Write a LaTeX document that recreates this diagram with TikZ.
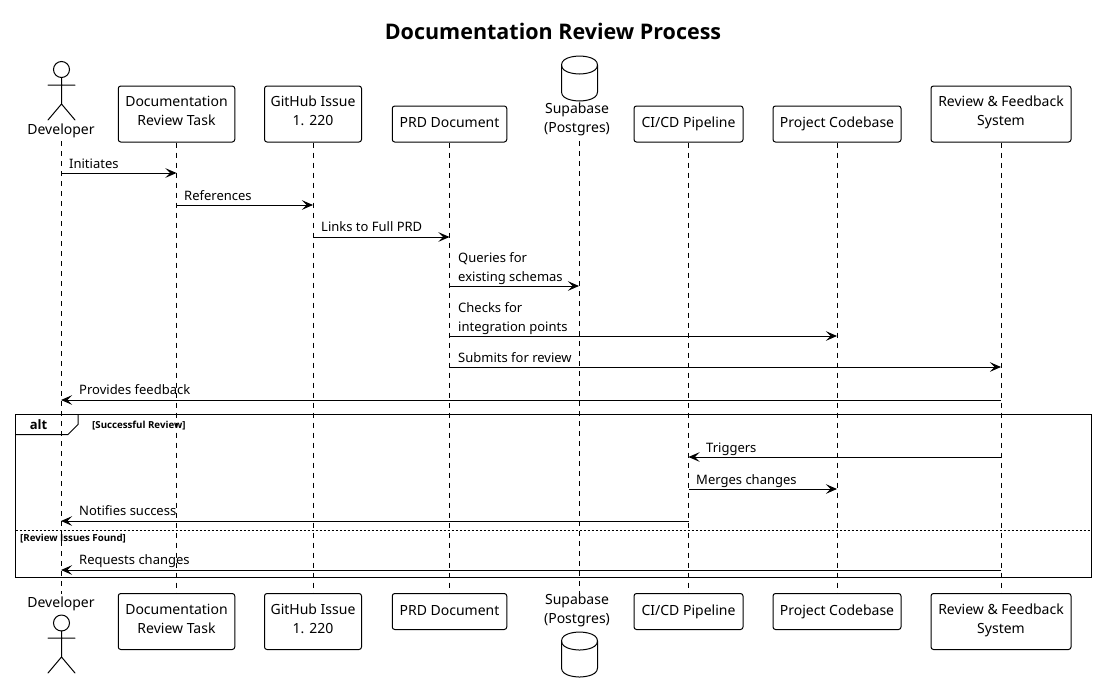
\documentclass[tikz,border=0pt]{standalone}
\usepackage{fontspec}
\setmainfont{Noto Sans}
\newfontfamily\boldfam{Open Sans}
\usetikzlibrary{arrows.meta}
\tikzset{
 x=1pt,y=-1pt,
 base font/.style={font=\fontsize{14}{19}\selectfont},
 partbox/.style={draw=black,line width=1pt,rounded corners=2.5pt,align=center,inner sep=0pt,base font,fill=white,execute at begin node=\strut,execute at end node=\strut},
 partlabel/.style={align=center,inner sep=0pt,base font,execute at begin node=\strut,execute at end node=\strut},
 lifeline/.style={line width=1pt,dash pattern=on 5pt off 5pt},
 msg/.style={line width=1pt,-{Stealth[length=11pt,width=9.5pt,inset=4.5pt]}},
 msglabel/.style={inner sep=0pt,align=left,font=\fontsize{13}{19}\selectfont,anchor=base west},
 stick/.style={line width=1pt,line cap=round},
 frameline/.style={line width=1pt},
 guard/.style={inner sep=0pt,font=\fontsize{9.7}{12}\boldfam\bfseries,anchor=base west},
}
\begin{document}
\begin{tikzpicture}
\useasboundingbox (0,0) rectangle (1097,694);
\fill[white] (0,0) rectangle (1097,694);
\draw[lifeline] (61,141) coordinate (devS) -- (61,594) coordinate (devE);
\draw[lifeline] (579,141) coordinate (dbS) -- (579,594) coordinate (dbE);
\node[inner sep=0pt,font=\fontsize{21.5}{24}\boldfam\bfseries] (title) at (553,31) {Documentation Review Process};
% top participants
\node[partlabel,anchor=north] (devT) at (61,121) {Developer};
\node[partbox,minimum width=116.5pt,minimum height=56pt] (taskT) at (176.5,114) {Documentation\\Review Task};
\node[partbox,minimum width=97pt,minimum height=56pt] (ghT) at (313,114) {GitHub Issue\\1. 220};
\node[partbox,minimum width=114.5pt,minimum height=36pt] (prdT) at (449.5,124) {PRD Document};
\node[partlabel,anchor=north] (dbT) at (577,103) {Supabase\\(Postgres)};
\node[partbox,minimum width=109pt,minimum height=36pt] (ciT) at (688.5,124) {CI/CD Pipeline};
\node[partbox,minimum width=128pt,minimum height=36pt] (pcT) at (837,124) {Project Codebase};
\node[partbox,minimum width=140pt,minimum height=56pt] (rvT) at (1001,114) {Review \& Feedback\\System};
% bottom participants
\node[partlabel,anchor=north] (devB) at (61,594) {Developer};
\node[partbox,minimum width=116.5pt,minimum height=56pt] (taskB) at (176.5,621.5) {Documentation\\Review Task};
\node[partbox,minimum width=97pt,minimum height=56pt] (ghB) at (313,621.5) {GitHub Issue\\1. 220};
\node[partbox,minimum width=114.5pt,minimum height=36pt] (prdB) at (449.5,611.5) {PRD Document};
\node[partlabel,anchor=north] (dbB) at (577,594) {Supabase\\(Postgres)};
\node[partbox,minimum width=109pt,minimum height=36pt] (ciB) at (688.5,611.5) {CI/CD Pipeline};
\node[partbox,minimum width=128pt,minimum height=36pt] (pcB) at (837,611.5) {Project Codebase};
\node[partbox,minimum width=140pt,minimum height=56pt] (rvB) at (1001,621.5) {Review \& Feedback\\System};
% lifelines
\begin{scope}
\draw[lifeline] (taskT.south) -- (taskB.north);
\draw[lifeline] (ghT.south) -- (ghB.north);
\draw[lifeline] (prdT.south) -- (prdB.north);
\draw[lifeline] (ciT.south) -- (ciB.north);
\draw[lifeline] (pcT.south) -- (pcB.north);
\draw[lifeline] (rvT.south) -- (rvB.north);
\end{scope}
% actors
\draw[stick] (61.5,69.5) circle (8);
\draw[stick] (61.5,77.5) -- (61.5,104) (48,85) -- (75,85) (48,120) -- (61.5,104) -- (75,120);
\draw[stick] (61.5,623) circle (8);
\draw[stick] (61.5,631) -- (61.5,657) (48,638) -- (75,638) (48,673) -- (61.5,657) -- (75,673);
% databases
\draw[stick] (561.5,65) .. controls (561.5,56) and (579.5,56) .. (579.5,56) .. controls (579.5,56) and (597.5,56) .. (597.5,65) -- (597.5,92) .. controls (597.5,101) and (579.5,101) .. (579.5,101) .. controls (579.5,101) and (561.5,101) .. (561.5,92) -- cycle;
\draw[stick] (561.5,65) .. controls (561.5,74) and (579.5,74) .. (579.5,74) .. controls (579.5,74) and (597.5,74) .. (597.5,65);
\draw[stick] (561.5,641) .. controls (561.5,632) and (579.5,632) .. (579.5,632) .. controls (579.5,632) and (597.5,632) .. (597.5,641) -- (597.5,668) .. controls (597.5,677) and (579.5,677) .. (579.5,677) .. controls (579.5,677) and (561.5,677) .. (561.5,668) -- cycle;
\draw[stick] (561.5,641) .. controls (561.5,650) and (579.5,650) .. (579.5,650) .. controls (579.5,650) and (597.5,650) .. (597.5,641);
% messages
\draw[msg] (devS |- 0,173) -- (taskT |- 0,173);
\node[msglabel] (m1) at (69,168) {Initiates};
\draw[msg] (taskT |- 0,205) -- (ghT |- 0,205);
\node[msglabel] (m2) at (184,200) {References};
\draw[msg] (ghT |- 0,237) -- (prdT |- 0,237);
\node[msglabel] (m3) at (321,231) {Links to Full PRD};
\draw[msg] (prdT |- 0,286) -- (dbS |- 0,286);
\node[msglabel] (m4) at (458,281) {Queries for\\existing schemas};
\draw[msg] (prdT |- 0,336) -- (pcT |- 0,336);
\node[msglabel] (m5) at (458,331) {Checks for\\integration points};
\draw[msg] (prdT |- 0,367) -- (rvT |- 0,367);
\node[msglabel] (m6) at (458,362) {Submits for review};
\draw[msg] (rvT |- 0,400) -- (devS |- 0,400);
\node[msglabel] (m7) at (79,394) {Provides feedback};
\draw[msg] (rvT |- 0,457) -- (ciT |- 0,457);
\node[msglabel] (m8) at (706,452) {Triggers};
\draw[msg] (ciT |- 0,489) -- (pcT |- 0,489);
\node[msglabel] (m9) at (696,484) {Merges changes};
\draw[msg] (ciT |- 0,521) -- (devS |- 0,521);
\node[msglabel] (m10) at (79,515) {Notifies success};
\draw[msg] (rvT |- 0,570) -- (devS |- 0,570);
\node[msglabel] (m11) at (79,564) {Requests changes};
% alt frame
\draw[frameline] (15.5,414.5) rectangle (1091,577);
\draw[frameline] (15.5,434.5) -- (68,434.5) -- (78,424.5) -- (78,414.5);
\node[inner sep=0pt,font=\fontsize{13}{15}\boldfam\bfseries,anchor=base] (alt) at (38.5,429) {alt};
\node[guard] (g1) at (92,428) {[Successful Review]};
\draw[line width=.8pt,dash pattern=on 2pt off 2pt] (15.5,530) -- (1091,530);
\node[guard] (g2) at (20,541.5) {[Review Issues Found]};
\end{tikzpicture}
\end{document}
